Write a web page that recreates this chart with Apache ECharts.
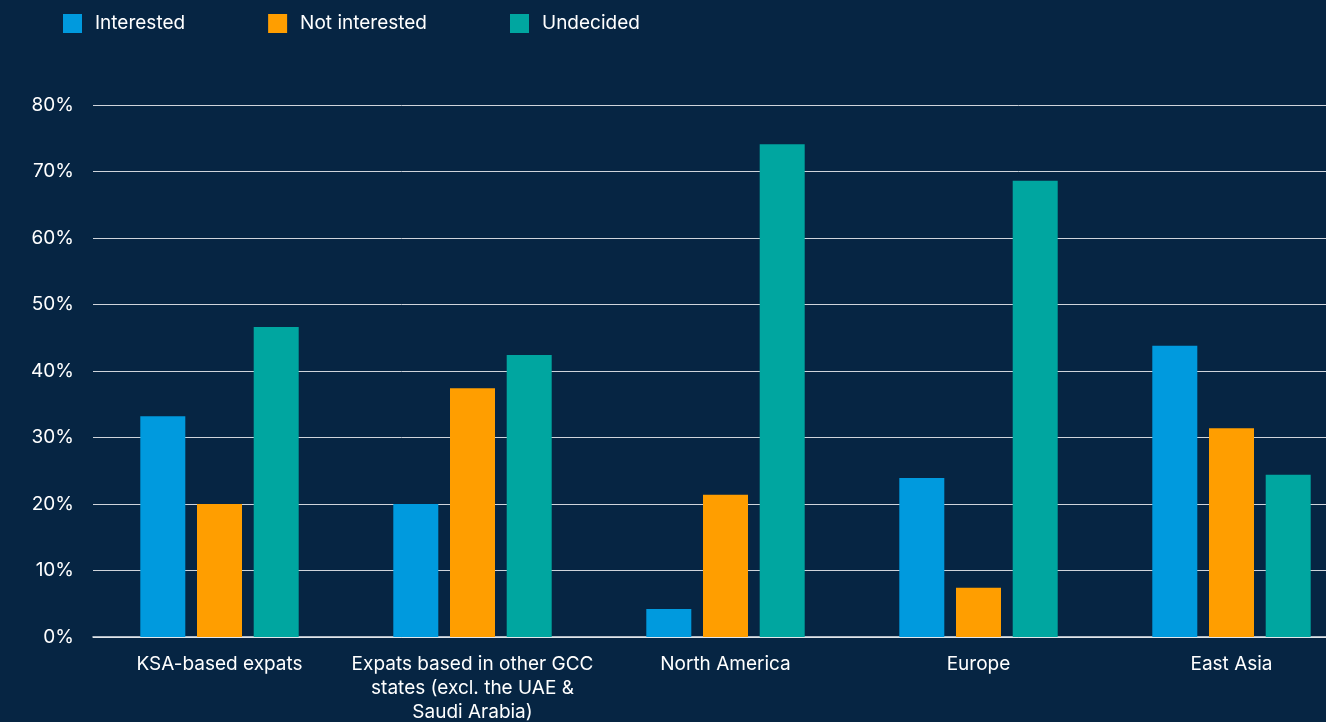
<!DOCTYPE html>
<html><head><meta charset="utf-8">
<script src="https://cdn.jsdelivr.net/npm/echarts@6/dist/echarts.min.js"></script>
<style>html,body{margin:0;padding:0;background:#062543;}#c{width:1326px;height:722px;}</style>
</head><body><div id="c"></div>
<script>
const categories = ['KSA-based expats', 'Expats based in other GCC\nstates (excl. the UAE &\nSaudi Arabia)', 'North America', 'Europe', 'East Asia'];
const interested = [33.2, 20.0, 4.2, 23.9, 43.8];
const notInterested = [20.0, 37.4, 21.4, 7.4, 31.4];
const undecided = [46.6, 42.4, 74.1, 68.6, 24.4];
const seriesNames = ['Interested', 'Not interested', 'Undecided'];
const colors = ['#009ADE', '#FF9E00', '#00A6A0'];
const font = 'Inter, "Noto Sans", sans-serif';

const chart = echarts.init(document.getElementById('c'), null, {renderer: 'canvas'});
const values = [interested, notInterested, undecided];
chart.setOption({
  backgroundColor: '#062543',
  animation: false,
  color: colors,
  legend: {
    left: 58, top: 9, itemWidth: 19, itemHeight: 19, itemGap: 83,
    icon: 'rect',
    textStyle: {color: '#ffffff', fontSize: 19, fontFamily: font, padding: [0, 0, 0, 8]},
    data: seriesNames
  },
  grid: {left: 93, top: 105, bottom: 85, width: 1265, containLabel: false, outerBoundsMode: 'none'},
  xAxis: {
    type: 'category', data: categories,
    axisLine: {show: true, lineStyle: {color: '#e8ebef', width: 1.5}},
    axisTick: {show: false},
    axisLabel: {color: '#ffffff', fontSize: 19, fontFamily: font, margin: 15, lineHeight: 24, interval: 0}
  },
  yAxis: {
    type: 'value', min: 0, max: 80, interval: 10,
    axisLine: {show: false}, axisTick: {show: false},
    axisLabel: {color: '#ffffff', fontSize: 19, fontFamily: font, margin: 19, formatter: '{value}%'},
    splitLine: {lineStyle: {color: '#cfd4db', width: 1}}
  },
  series: values.map((v, i) => ({
    name: seriesNames[i], type: 'bar', data: v,
    barWidth: 45, barGap: '26%',
    itemStyle: {color: colors[i]}
  }))
});
</script></body></html>
